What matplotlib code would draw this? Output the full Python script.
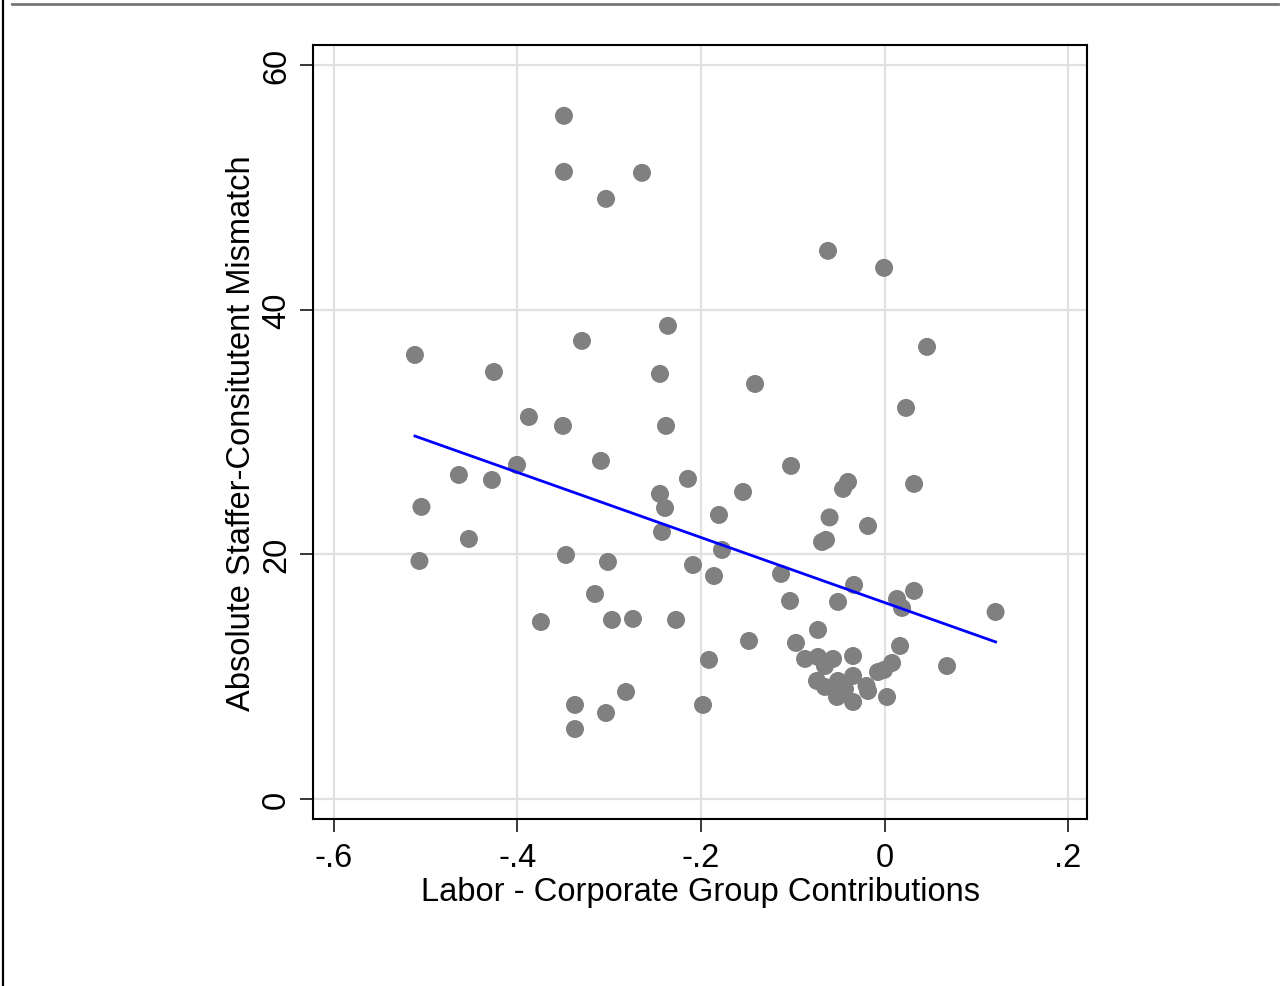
import numpy as np
import matplotlib
matplotlib.use("Agg")
import matplotlib.pyplot as plt
from matplotlib.lines import Line2D

plt.rcParams['font.family'] = ['Liberation Sans', 'DejaVu Sans']

# labor minus corporate contributions, per office
contrib = [
    -0.5117, -0.5046, -0.5068, -0.4638, -0.4529, -0.4278, -0.4256, -0.4005,
    -0.3875, -0.3744, -0.3504, -0.3493, -0.3493, -0.3471, -0.3373, -0.3373,
    -0.3297, -0.3155, -0.3090, -0.3035, -0.3035, -0.3014, -0.2970, -0.2817,
    -0.2741, -0.2643, -0.2447, -0.2447, -0.2425, -0.2392, -0.2381, -0.2360,
    -0.2272, -0.2142, -0.2087, -0.1978, -0.1913, -0.1858, -0.1804, -0.1771,
    -0.1542, -0.1477, -0.1411, -0.1128, -0.1030, -0.1019, -0.0965, -0.0866,
    -0.0725, -0.0561, -0.0649, -0.0725, -0.0681, -0.0638, -0.0736, -0.0649,
    -0.0616, -0.0599, -0.0518, -0.0507, -0.0507, -0.0452, -0.0398, -0.0343,
    -0.0343, -0.0343, -0.0332, -0.0431, -0.0196, -0.0180, -0.0180, -0.0071,
    -0.0005, -0.0005, 0.0027, 0.0082, 0.0136, 0.0169, 0.0191, 0.0234,
    0.0322, 0.0322, 0.0463, 0.0681, 0.1210,
]

# absolute staffer-constituent mismatch
mismatch = [
    36.30, 23.88, 19.46, 26.49, 21.26, 26.08, 34.91, 27.31,
    31.23, 14.47, 30.50, 55.85, 51.27, 19.95, 7.69, 5.72,
    37.45, 16.76, 27.64, 49.06, 7.03, 19.38, 14.64, 8.75,
    14.72, 51.19, 34.75, 24.94, 21.83, 23.79, 30.50, 38.68,
    14.64, 26.17, 19.13, 7.69, 11.37, 18.23, 23.22, 20.36,
    25.10, 12.92, 33.93, 18.40, 16.19, 27.23, 12.76, 11.45,
    11.61, 11.45, 10.87, 13.82, 21.01, 21.18, 9.65, 9.16,
    44.81, 23.02, 8.34, 16.11, 9.65, 25.35, 25.92, 11.69,
    10.06, 7.93, 17.50, 8.99, 9.24, 22.32, 8.83, 10.38,
    43.42, 10.55, 8.34, 11.12, 16.35, 12.51, 15.62, 31.97,
    25.76, 17.01, 36.96, 10.87, 15.29,
]

# fitted line (lfit), intercept and slope
fit_intercept = 16.06
fit_slope = -26.6

x_ticks = [-0.6, -0.4, -0.2, 0, 0.2]
x_tick_labels = ["-.6", "-.4", "-.2", "0", ".2"]
y_ticks = [0, 20, 40, 60]

x = np.array(contrib)
y = np.array(mismatch)

# fitted line spans the observed range
x_fit = np.array([x.min(), x.max()])
y_fit = fit_intercept + fit_slope * x_fit

fig = plt.figure(figsize=(12.83, 9.87), dpi=100)
ax = fig.add_axes([0.2443, 0.1692, 0.6030, 0.7837])

ax.grid(True, color="#e1e1e1", linewidth=1.6, zorder=0)
ax.set_axisbelow(True)

ax.scatter(x, y, s=168, color="#808080", edgecolors="none", zorder=3)
ax.plot(x_fit, y_fit, color="#0000ff", linewidth=2.0, zorder=4)

ax.set_xlim(-0.6223, 0.2207)
ax.set_ylim(-1.635, 61.6)
ax.set_xticks(x_ticks)
ax.set_xticklabels(x_tick_labels)
ax.set_yticks(y_ticks)
ax.set_yticklabels([str(v) for v in y_ticks], rotation=90, va="center")

ax.tick_params(axis="both", direction="out", length=9.5, width=1.1,
               labelsize=23.5, color="black")
ax.tick_params(axis="x", pad=7)
ax.tick_params(axis="y", pad=6)

for side in ax.spines.values():
    side.set_linewidth(1.5)
    side.set_color("black")

ax.set_xlabel("Labor - Corporate Group Contributions", fontsize=23.5, labelpad=2)
ax.set_ylabel("Absolute Staffer-Consitutent Mismatch", fontsize=23.5, labelpad=3)

# page edges around the graph
fig.add_artist(Line2D([0.0094, 0.996], [0.9945, 0.9945], color="#777777",
                      linewidth=2, transform=fig.transFigure))
fig.add_artist(Line2D([0.0025, 0.0025], [0.0, 1.0], color="black",
                      linewidth=1.6, transform=fig.transFigure))

fig.savefig("out.png", dpi=100)
